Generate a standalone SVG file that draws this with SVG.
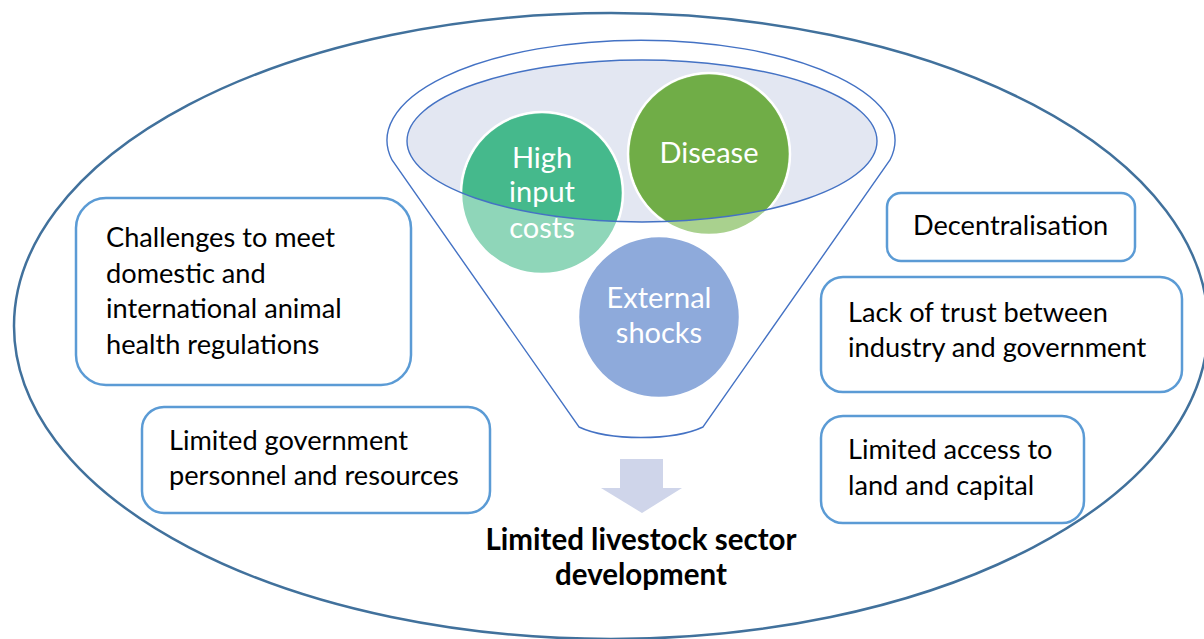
<svg xmlns="http://www.w3.org/2000/svg" width="1204" height="639" viewBox="0 0 1204 639">
  <style>
    .box { fill: #ffffff; stroke: #5b9bd5; stroke-width: 2.5; }
    .txt { font-family: Lato, "Liberation Sans", sans-serif; font-size: 27.2px; fill: #000000; }
    .ctxt { font-family: Lato, "Liberation Sans", sans-serif; font-size: 29px; fill: #ffffff; text-anchor: middle; }
    .title { font-family: Lato, "Liberation Sans", sans-serif; font-size: 29.5px; font-weight: bold; fill: #000000; text-anchor: middle; }
    .rim { stroke: #4472c4; stroke-width: 1.4; }
    .disc { stroke: #ffffff; stroke-width: 2.5; }
  </style>
  <defs>
    <clipPath id="funnel-mouth">
      <ellipse cx="642" cy="141" rx="235" ry="81"/>
    </clipPath>
  </defs>

  <rect width="1204" height="639" fill="#ffffff"/>

  <!-- outer boundary -->
  <ellipse id="boundary" cx="611" cy="326" rx="597" ry="313" fill="none" stroke="#41719c" stroke-width="2.5"/>

  <!-- funnel body -->
  <g id="funnel">
    <path class="rim" fill="#ffffff" d="M 392 160 A 254 100 0 1 1 890 160 L 703 427 A 75 24 0 0 1 579 427 Z"/>
    <ellipse cx="642" cy="141" rx="235" ry="81" fill="#e3e7f2"/>
  </g>

  <g id="high-input-costs">
    <circle class="disc" cx="542" cy="193" r="81" fill="#8fd6b9"/>
    <circle cx="542" cy="193" r="79.5" fill="#45b98c" clip-path="url(#funnel-mouth)"/>
    <text class="ctxt" x="542" y="168">High</text>
    <text class="ctxt" x="542" y="202">input</text>
    <text class="ctxt" x="542" y="238">costs</text>
  </g>

  <g id="disease">
    <circle class="disc" cx="709" cy="154" r="81" fill="#a9d18e"/>
    <circle cx="709" cy="154" r="79.5" fill="#70ad47" clip-path="url(#funnel-mouth)"/>
    <text class="ctxt" x="709" y="163">Disease</text>
  </g>

  <g id="external-shocks">
    <circle class="disc" cx="659" cy="317" r="81" fill="#8eaadb"/>
    <text class="ctxt" x="659" y="308">External</text>
    <text class="ctxt" x="659" y="343">shocks</text>
  </g>

  <!-- mouth outline drawn over the discs -->
  <ellipse class="rim" cx="642" cy="141" rx="235" ry="81" fill="none"/>

  <g id="challenges">
    <rect class="box" x="76" y="198" width="335" height="187" rx="30"/>
    <text class="txt" x="106" y="247">Challenges to meet</text>
    <text class="txt" x="106" y="283">domestic and</text>
    <text class="txt" x="106" y="318">international animal</text>
    <text class="txt" x="106" y="354">health regulations</text>
  </g>

  <g id="government-resources">
    <rect class="box" x="142" y="407" width="348" height="106" rx="22"/>
    <text class="txt" x="169" y="450">Limited government</text>
    <text class="txt" x="169" y="485">personnel and resources</text>
  </g>

  <g id="decentralisation">
    <rect class="box" x="887" y="193" width="248" height="68" rx="14"/>
    <text class="txt" x="913" y="235">Decentralisation</text>
  </g>

  <g id="lack-of-trust">
    <rect class="box" x="821" y="277" width="361" height="115" rx="22"/>
    <text class="txt" x="848" y="322">Lack of trust between</text>
    <text class="txt" x="848" y="357">industry and government</text>
  </g>

  <g id="land-capital">
    <rect class="box" x="821" y="416" width="263" height="107" rx="22"/>
    <text class="txt" x="848" y="459">Limited access to</text>
    <text class="txt" x="848" y="495">land and capital</text>
  </g>

  <g id="connectors">
    <path d="M 620 459 L 663 459 L 663 488 L 682 488 L 642 513 L 601 488 L 620 488 Z" fill="#cfd5ea"/>
  </g>

  <g id="outcome">
    <text class="title" x="641" y="550">Limited livestock sector</text>
    <text class="title" x="641" y="585">development</text>
  </g>
</svg>
